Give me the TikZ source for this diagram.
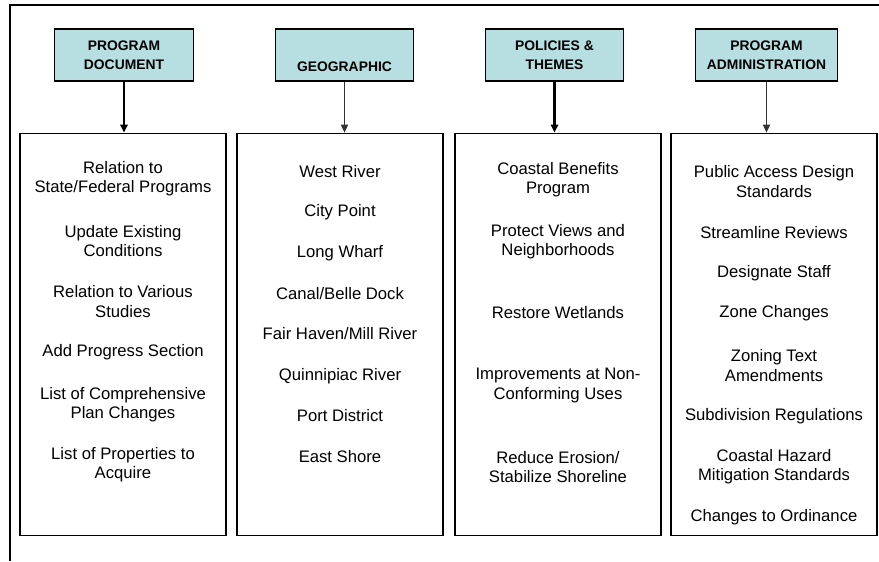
\documentclass[tikz,border=0pt]{standalone}
\usepackage{fontspec}
\setmainfont{Liberation Sans}
\usetikzlibrary{arrows.meta}
\definecolor{headfill}{HTML}{B7DEE0}
\definecolor{thinline}{HTML}{333333}

\begin{document}
\begin{tikzpicture}[
  x=0.75pt, y=-0.75pt, >={Triangle[length=6pt,width=5.5pt]},
  head/.style={draw, line width=0.9pt, fill=headfill, align=center, minimum width=104pt, minimum height=39pt,
    inner sep=0pt, font=\bfseries\fontsize{10.4}{14.25}\selectfont},
  list/.style={draw, line width=0.9pt, minimum width=154.5pt, minimum height=302pt, inner sep=0pt},
  item/.style={align=center, inner sep=0pt, font=\fontsize{12.5}{14.5}\selectfont},
  bold/.style={->, line width=1.9pt},
  fine/.style={->, draw=thinline, line width=0.7pt},
]
\useasboundingbox (0,0) rectangle (879,561);

% Frame
\draw[line width=0.8pt] (10,561) -- (10,5) -- (879,5);

% Headings
\node[head] (head1) at (124,55) {PROGRAM\\DOCUMENT};
\node[head] (head2) at (344.5,55) {\strut\\GEOGRAPHIC};
\node[head] (head3) at (554.5,55) {POLICIES \&\\THEMES};
\node[head, minimum width=106pt] (head4) at (766.5,55) {PROGRAM\\ADMINISTRATION};

% Lists
\node[list] (list1) at (123,334.5) {};
\node[list] (list2) at (340,334.5) {};
\node[list] (list3) at (558,334.5) {};
\node[list] (list4) at (774,334.5) {};

\draw[bold] (head1.south) -- (head1.south |- list1.north);
\draw[fine] (head2.south) -- (head2.south |- list2.north);
\draw[bold] (head3.south) -- (head3.south |- list3.north);
\draw[fine] (head4.south) -- (head4.south |- list4.north);

% Program document
\foreach \y/\t [count=\k] in {179/{Relation to\\State/Federal Programs}, 241/{Update Existing\\Conditions},
    301.5/{Relation to Various\\Studies}, 352/{Add Progress Section}, 404.5/{List of Comprehensive\\Plan Changes},
    465/{List of Properties to\\Acquire}}
  \node[item] (doc\k) at (123,\y) {\t};

% Geographic
\foreach \y/\t [count=\k] in {172/{West River}, 212/{City Point}, 253/{Long Wharf}, 294/{Canal/Belle Dock},
    334/{Fair Haven/Mill River}, 376/{Quinnipiac River}, 416/{Port District}, 457/{East Shore}}
  \node[item] (geo\k) at (340,\y) {\t};

% Policies and themes
\foreach \y/\t [count=\k] in {180/{Coastal Benefits\\Program}, 242/{Protect Views and\\Neighborhoods},
    313/{Restore Wetlands}, 385.5/{Improvements at Non-\\Conforming Uses}, 467/{Reduce Erosion/\\Stabilize Shoreline}}
  \node[item] (pol\k) at (558,\y) {\t};

% Program administration
\foreach \y/\t [count=\k] in {181.5/{Public Access Design\\Standards}, 233/{Streamline Reviews}, 273/{Designate Staff},
    313/{Zone Changes}, 365.5/{Zoning Text\\Amendments}, 416/{Subdivision Regulations},
    467/{Coastal Hazard\\Mitigation Standards}, 517/{Changes to Ordinance}}
  \node[item] (adm\k) at (774,\y) {\t};

\end{tikzpicture}
\end{document}
